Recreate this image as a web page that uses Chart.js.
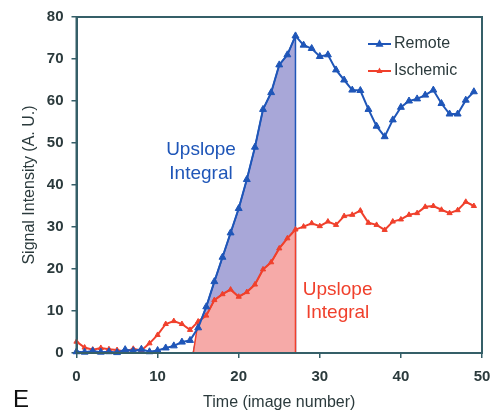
<!DOCTYPE html>
<html>
<head>
<meta charset="utf-8">
<script src="https://cdn.jsdelivr.net/npm/chart.js@4.4.1/dist/chart.umd.min.js"></script>
<style>
  html, body { margin: 0; padding: 0; background: #fff; }
  #wrap { position: relative; width: 491px; height: 413px; }
</style>
</head>
<body>
<div id="wrap"><canvas id="curvas"></canvas></div>
<script>
// tiempo (numero de imagen)
var tiempos = [0,1,2,3,4,5,6,7,8,9,10,11,12,13,14,15,16,17,18,19,20,21,22,23,24,
  25,26,27,28,29,30,31,32,33,34,35,36,37,38,39,40,41,42,43,44,45,46,47,48,49];

var remote = [0.3,0.2,0.5,0.2,0.3,0.1,0.8,0.5,0.9,0.3,0.6,1.2,1.7,2.6,3.0,6.0,11.0,17.0,22.8,28.6,
  34.4,41.3,49.0,58.0,62.0,68.6,71.0,75.5,73.3,72.5,70.6,71.0,67.4,65.0,62.6,62.5,58.0,54.0,51.5,55.5,
  58.5,60.0,60.5,61.4,62.6,59.4,56.9,56.9,60.2,62.2];

var ischemic = [2.7,1.3,0.8,1.2,0.9,0.7,0.3,1.0,0.6,2.3,4.3,6.9,7.6,6.9,5.5,7.5,8.9,12.6,14.0,15.1,
  13.4,14.5,16.3,19.9,21.6,24.9,27.3,29.4,30.1,30.9,30.2,31.3,30.5,32.6,32.9,33.9,31.0,30.5,29.3,31.3,
  31.8,32.9,33.3,34.8,35.0,34.1,33.3,34.0,36.0,35.0];

// inicio y pico de la pendiente
var tInicio = 14.4;
var tPico = 27;

var xTicks = [0, 10, 20, 30, 40, 50];
var yTicks = [0, 10, 20, 30, 40, 50, 60, 70, 80];

var azul = '#1f56b8';
var rojo = '#f0402c';
var marco = '#355f68';
var texto = '#2b3a3c';

function puntos(valores) {
  var out = [];
  for (var i in tiempos) out.push({x: tiempos[i], y: valores[i]});
  return out;
}

function area(valores) {
  var out = [{x: tInicio, y: 0}];
  for (var i in tiempos) {
    if (tiempos[i] > tInicio && tiempos[i] <= tPico) out.push({x: tiempos[i], y: valores[i]});
  }
  out.push({x: tPico, y: 0});
  return out;
}

var extras = {
  id: 'extras',
  afterDatasetsDraw: function(chart) {
    var ctx = chart.ctx;
    var a = chart.chartArea;
    var xs = chart.scales.x, ys = chart.scales.y;
    ctx.save();
    // marco completo
    ctx.strokeStyle = marco;
    ctx.lineWidth = 2;
    ctx.strokeRect(a.left, a.top, a.right - a.left, a.bottom - a.top);

    // leyenda
    var items = [
      {label: 'Remote', color: azul, r: 4, y: 44},
      {label: 'Ischemic', color: rojo, r: 3, y: 71}
    ];
    items.forEach(function(it) {
      ctx.strokeStyle = it.color;
      ctx.lineWidth = 2;
      ctx.beginPath();
      ctx.moveTo(368, it.y);
      ctx.lineTo(391, it.y);
      ctx.stroke();
      ctx.fillStyle = it.color;
      ctx.beginPath();
      ctx.moveTo(379.5, it.y - it.r * 1.2);
      ctx.lineTo(379.5 + it.r, it.y + it.r * 0.7);
      ctx.lineTo(379.5 - it.r, it.y + it.r * 0.7);
      ctx.closePath();
      ctx.fill();
      ctx.fillStyle = texto;
      ctx.font = '16px "Liberation Sans", Arial, sans-serif';
      ctx.textAlign = 'left';
      ctx.textBaseline = 'middle';
      ctx.fillText(it.label, 394, it.y);
    });

    // textos de la integral
    ctx.font = '19px "Liberation Sans", Arial, sans-serif';
    ctx.textAlign = 'center';
    ctx.fillStyle = azul;
    ctx.fillText('Upslope', xs.getPixelForValue(15.35), ys.getPixelForValue(48.3));
    ctx.fillText('Integral', xs.getPixelForValue(15.35), ys.getPixelForValue(42.6));
    ctx.fillStyle = rojo;
    ctx.fillText('Upslope', xs.getPixelForValue(32.2), ys.getPixelForValue(15.0));
    ctx.fillText('Integral', xs.getPixelForValue(32.2), ys.getPixelForValue(9.5));

    // letra del panel
    ctx.fillStyle = '#111';
    ctx.font = '24px "Liberation Sans", Arial, sans-serif';
    ctx.textAlign = 'left';
    ctx.fillText('E', 13, 400);
    ctx.restore();
  }
};

var chartdata = {
  datasets: [
    {
      label: 'Remote',
      data: puntos(remote),
      borderColor: azul,
      backgroundColor: azul,
      borderWidth: 2,
      pointStyle: 'triangle',
      pointRadius: 4,
      pointBorderWidth: 1,
      clip: false
    },
    {
      label: 'Ischemic',
      data: puntos(ischemic),
      borderColor: rojo,
      backgroundColor: rojo,
      borderWidth: 2,
      pointStyle: 'triangle',
      pointRadius: 3,
      pointBorderWidth: 1,
      clip: false
    },
    {
      label: 'area roja',
      data: area(ischemic),
      borderColor: rojo,
      backgroundColor: '#f6aaa8',
      borderWidth: 1.5,
      pointRadius: 0,
      fill: 'origin'
    },
    {
      label: 'area azul',
      data: area(remote),
      borderColor: azul,
      backgroundColor: '#a8a7d8',
      borderWidth: 1.5,
      pointRadius: 0,
      fill: 'origin'
    }
  ]
};

var ctx = document.getElementById('curvas');
var grafico = new Chart(ctx, {
  type: 'line',
  data: chartdata,
  options: {
    responsive: true,
    maintainAspectRatio: false,
    animation: false,
    layout: { padding: { left: 0, top: 17, right: 9, bottom: 0 } },
    plugins: {
      legend: { display: false },
      tooltip: { enabled: false }
    },
    scales: {
      x: {
        type: 'linear',
        min: 0,
        max: 50,
        afterFit: function(scale) {
          scale.height = 60;
          scale.paddingLeft = 0;
          scale.paddingRight = 0;
        },
        afterBuildTicks: function(scale) { scale.ticks = xTicks.map(function(v) { return {value: v}; }); },
        ticks: { color: texto, padding: 10, font: { family: '"Liberation Sans", Arial, sans-serif', size: 15, weight: 'bold' } },
        grid: { drawOnChartArea: false, drawTicks: true, tickLength: 5, color: marco, lineWidth: 1.5 },
        border: { display: true, color: marco, width: 2 },
        title: {
          display: true,
          text: 'Time (image number)',
          color: texto,
          padding: { top: 0, bottom: 1 },
          font: { family: '"Liberation Sans", Arial, sans-serif', size: 16 }
        }
      },
      y: {
        min: 0,
        max: 80,
        afterFit: function(scale) {
          scale.width = 76.5;
          scale.paddingTop = 0;
          scale.paddingBottom = 0;
        },
        afterBuildTicks: function(scale) { scale.ticks = yTicks.map(function(v) { return {value: v}; }); },
        ticks: { color: texto, padding: 8, font: { family: '"Liberation Sans", Arial, sans-serif', size: 15, weight: 'bold' } },
        grid: { drawOnChartArea: false, drawTicks: true, tickLength: 5, color: marco, lineWidth: 1.5 },
        border: { display: true, color: marco, width: 2 },
        title: {
          display: true,
          text: 'Signal Intensity (A. U.)',
          color: texto,
          padding: { top: 20, bottom: 0 },
          font: { family: '"Liberation Sans", Arial, sans-serif', size: 16 }
        }
      }
    }
  },
  plugins: [extras]
});
</script>
</body>
</html>
